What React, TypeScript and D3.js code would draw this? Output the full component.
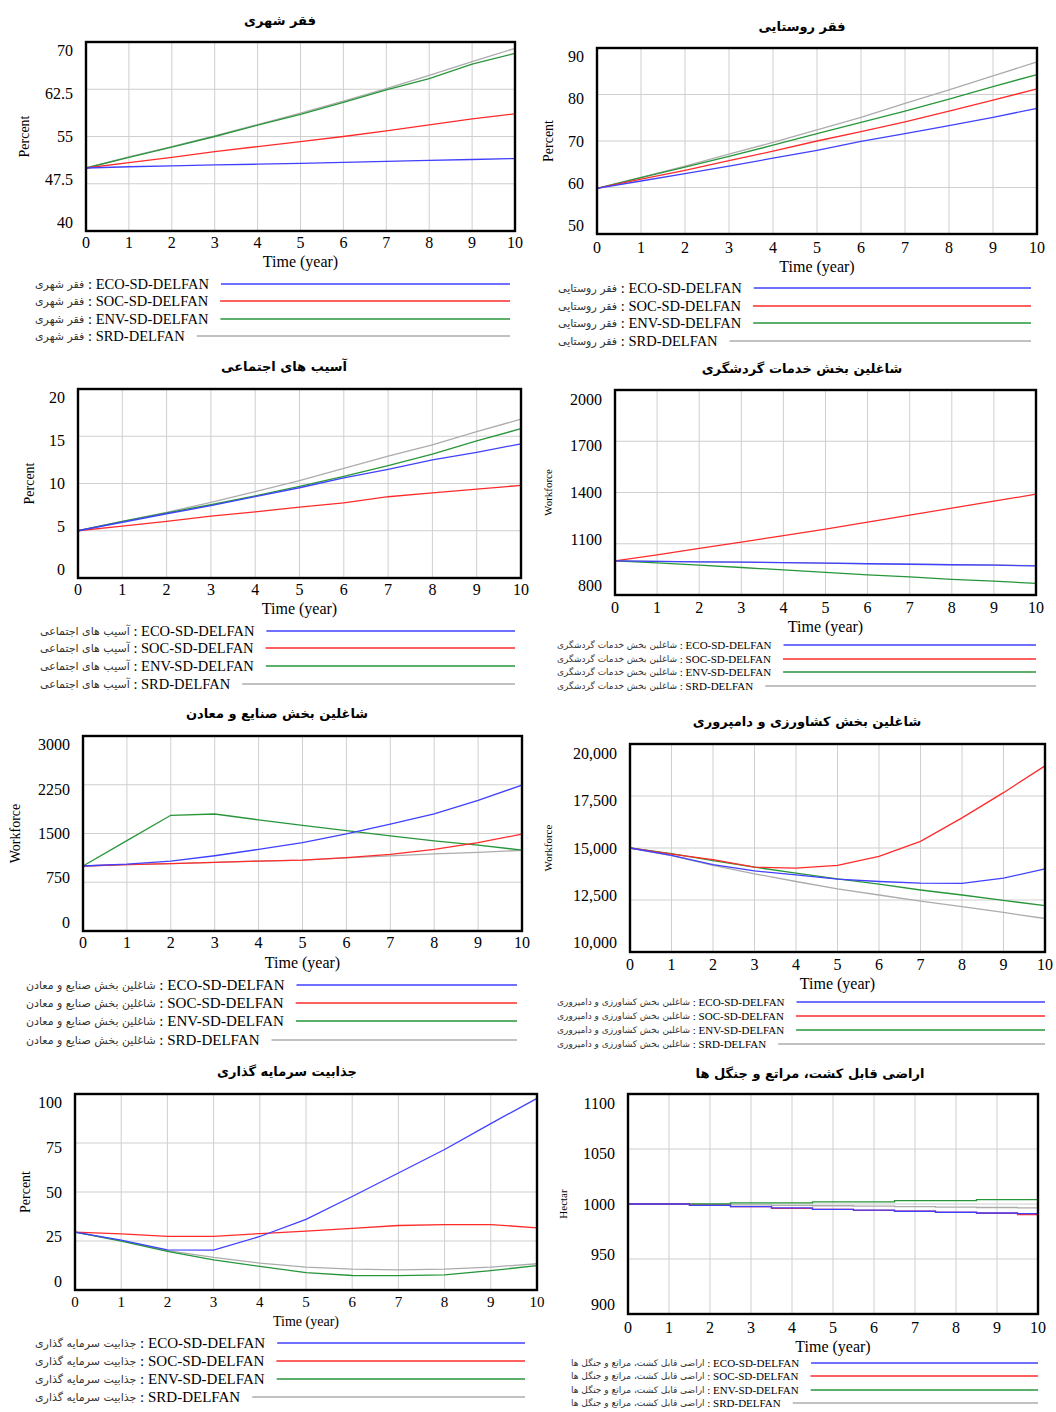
import * as d3 from 'd3';
import { useEffect, useRef } from 'react';

const years = [0, 1, 2, 3, 4, 5, 6, 7, 8, 9, 10];
const runNames = ['ECO-SD-DELFAN', 'SOC-SD-DELFAN', 'ENV-SD-DELFAN', 'SRD-DELFAN'];
const runColors = ['#4040ff', '#ff2b2b', '#27963a', '#acacac'];

// فقر شهری
const urbanTicks = [40, 47.5, 55, 62.5, 70];
const urbanEco = [50, 50.2, 50.35, 50.5, 50.6, 50.75, 50.9, 51.05, 51.2, 51.35, 51.5];
const urbanSoc = [50, 50.85, 51.7, 52.6, 53.4, 54.2, 55.0, 55.9, 56.85, 57.8, 58.6];
const urbanEnv = [50, 51.7, 53.3, 55.0, 56.8, 58.5, 60.4, 62.4, 64.2, 66.5, 68.2];
const urbanSrd = [50, 51.75, 53.4, 55.1, 56.9, 58.7, 60.6, 62.6, 64.7, 66.9, 69.0];

// فقر روستایی
const ruralTicks = [50, 60, 70, 80, 90];
const ruralEco = [59.8, 61.4, 63.0, 64.6, 66.3, 68.0, 69.9, 71.6, 73.3, 75.1, 77.0];
const ruralSoc = [59.8, 61.8, 63.7, 65.8, 67.8, 70.0, 72.0, 74.1, 76.4, 78.8, 81.2];
const ruralEnv = [59.8, 62.1, 64.4, 66.7, 69.1, 71.6, 74.0, 76.4, 79.0, 81.7, 84.3];
const ruralSrd = [59.8, 62.2, 64.6, 67.2, 69.7, 72.4, 75.1, 78.1, 81.0, 84.0, 87.0];

// آسیب های اجتماعی
const socialTicks = [0, 5, 10, 15, 20];
const socialEco = [5.0, 5.9, 6.8, 7.65, 8.6, 9.55, 10.6, 11.5, 12.5, 13.3, 14.2];
const socialSoc = [5.0, 5.5, 6.0, 6.55, 7.0, 7.5, 7.95, 8.6, 9.0, 9.4, 9.8];
const socialEnv = [5.0, 6.0, 6.9, 7.75, 8.7, 9.7, 10.75, 11.9, 13.1, 14.5, 15.8];
const socialSrd = [5.0, 6.0, 6.95, 8.0, 9.15, 10.3, 11.6, 12.9, 14.1, 15.5, 16.8];

// شاغلین بخش خدمات گردشگری
const tourismTicks = [800, 1100, 1400, 1700, 2000];
const tourismEco = [1000, 997, 994, 992, 990, 987, 983, 980, 977, 975, 970];
const tourismSoc = [1000, 1035, 1073, 1110, 1147, 1186, 1227, 1268, 1308, 1349, 1390];
const tourismEnv = [1000, 988, 975, 961, 947, 933, 918, 906, 892, 881, 868];
const tourismSrd = [1000, 997, 994, 992, 990, 987, 984, 981, 978, 976, 972];

// شاغلین بخش صنایع و معادن
const industryTicks = [0, 750, 1500, 2250, 3000];
const industryEco = [1000, 1030, 1075, 1158, 1256, 1360, 1493, 1643, 1803, 2010, 2245];
const industrySoc = [1000, 1020, 1035, 1055, 1075, 1090, 1130, 1178, 1255, 1360, 1490];
const industryEnv = [1000, 1390, 1780, 1800, 1710, 1625, 1545, 1465, 1385, 1320, 1245];
const industrySrd = [1000, 1020, 1035, 1055, 1075, 1090, 1125, 1155, 1185, 1210, 1240];

// شاغلین بخش کشاورزی و دامپروری
const farmTicks = [10000, 12500, 15000, 17500, 20000];
const farmEco = [15000, 14650, 14200, 13900, 13710, 13500, 13390, 13310, 13300, 13550, 14000];
const farmSoc = [15000, 14710, 14440, 14080, 14030, 14160, 14600, 15320, 16450, 17660, 18950];
const farmEnv = [15000, 14730, 14390, 14080, 13790, 13520, 13260, 12980, 12740, 12480, 12230];
const farmSrd = [15000, 14630, 14160, 13760, 13390, 13030, 12740, 12450, 12180, 11900, 11610];

// جذابیت سرمایه گذاری
const investTicks = [0, 25, 50, 75, 100];
const investEco = [29.5, 25.5, 20.5, 20.3, 27.3, 36, 47.7, 59.7, 71.7, 84.9, 97.8];
const investSoc = [29.5, 28.6, 27.4, 27.4, 28.8, 30.0, 31.4, 32.9, 33.4, 33.4, 31.7];
const investEnv = [29.5, 24.9, 19.7, 15.4, 12.0, 8.9, 7.4, 7.3, 7.7, 9.9, 12.4];
const investSrd = [29.5, 25.2, 20.1, 16.6, 13.7, 11.7, 10.6, 10.3, 10.6, 11.7, 13.4];

// اراضی قابل کشت، مراتع و جنگل ها (yearly steps)
const landTicks = [900, 950, 1000, 1050, 1100];
const landEco = [1000, 1000, 998.8, 997.6, 996.4, 995.2, 994.5, 993.4, 992.5, 991.8, 991.2];
const landSoc = [1000, 1000, 998.8, 997.6, 996.0, 995.2, 994.2, 993.4, 992.4, 991.6, 990.4];
const landEnv = [1000, 1000, 1000, 1001, 1001, 1002, 1002, 1003, 1003, 1004, 1004];
const landSrd = [1000, 1000, 999.6, 999.2, 998.8, 998.4, 998.0, 997.6, 997.2, 996.8, 996.4];

const panels = [
  { title: 'فقر شهری', unit: 'Percent', ticks: urbanTicks, series: [urbanEco, urbanSoc, urbanEnv, urbanSrd],
    box: [86, 515, 42, 231], titleX: 280, titleY: 20, unitX: 24, unitSize: 14, tickY: 242, timeY: 261,
    legendX: 35, legendY: [284, 301, 319, 336], legendSize: 14.5, faSize: 11, legendEnd: 510 },
  { title: 'فقر روستایی', unit: 'Percent', ticks: ruralTicks, series: [ruralEco, ruralSoc, ruralEnv, ruralSrd],
    box: [597, 1037, 48, 234], titleX: 802, titleY: 26, unitX: 548, unitSize: 14, tickY: 247, timeY: 266,
    legendX: 558, legendY: [288, 306, 323, 341], legendSize: 14.5, faSize: 11, legendEnd: 1031 },
  { title: 'آسیب های اجتماعی', unit: 'Percent', ticks: socialTicks, series: [socialEco, socialSoc, socialEnv, socialSrd],
    box: [78, 521, 389, 578], titleX: 284, titleY: 366, unitX: 29, unitSize: 14, tickY: 589, timeY: 608,
    legendX: 40, legendY: [631, 648, 666, 684], legendSize: 14.5, faSize: 11, legendEnd: 515 },
  { title: 'شاغلین بخش خدمات گردشگری', unit: 'Workforce', ticks: tourismTicks, series: [tourismEco, tourismSoc, tourismEnv, tourismSrd],
    box: [615, 1036, 390, 595], titleX: 802, titleY: 368, unitX: 548, unitSize: 11, tickY: 607, timeY: 626,
    legendX: 557, legendY: [645, 659, 672, 686], legendSize: 11, faSize: 9, legendEnd: 1036 },
  { title: 'شاغلین بخش صنایع و معادن', unit: 'Workforce', ticks: industryTicks, series: [industryEco, industrySoc, industryEnv, industrySrd],
    box: [83, 522, 736, 931], titleX: 277, titleY: 713, unitX: 15, unitSize: 14, tickY: 942, timeY: 962,
    legendX: 26, legendY: [985, 1003, 1021, 1040], legendSize: 15, faSize: 11, legendEnd: 517 },
  { title: 'شاغلین بخش کشاورزی و دامپروری', unit: 'Workforce', ticks: farmTicks, series: [farmEco, farmSoc, farmEnv, farmSrd],
    box: [630, 1045, 744, 952], titleX: 807, titleY: 721, unitX: 548, unitSize: 11, tickY: 964, timeY: 983,
    legendX: 557, legendY: [1002, 1016, 1030, 1044], legendSize: 11, faSize: 9, legendEnd: 1045, comma: true },
  { title: 'جذابیت سرمایه گذاری', unit: 'Percent', ticks: investTicks, series: [investEco, investSoc, investEnv, investSrd],
    box: [75, 537, 1094, 1290], titleX: 287, titleY: 1071, unitX: 25, unitSize: 14, tickY: 1302, timeY: 1321, tickSize: 15, timeSize: 14,
    legendX: 35, legendY: [1343, 1361, 1379, 1397], legendSize: 15, faSize: 11, legendEnd: 525 },
  { title: 'اراضی قابل کشت، مراتع و جنگل ها', unit: 'Hectar', ticks: landTicks, series: [landEco, landSoc, landEnv, landSrd],
    box: [628, 1038, 1094, 1314], titleX: 810, titleY: 1073, unitX: 563, unitSize: 11, tickY: 1327, timeY: 1346,
    legendX: 571, legendY: [1363, 1376, 1390, 1403], legendSize: 11, faSize: 9, legendEnd: 1038, stepped: true },
];

const serif = '"Liberation Serif", "Times New Roman", serif';
const arabic = '"DejaVu Sans", sans-serif';

const App = () => {
  const svgRef = useRef(null);

  useEffect(() => {
    const svg = d3.select(svgRef.current);
    svg.selectAll('*').remove();
    svg.append('rect').attr('width', 1056).attr('height', 1412).attr('fill', '#fff');

    panels.forEach(p => {
      const [x0, x1, y0, y1] = p.box;
      const g = svg.append('g');
      const x = d3.scaleLinear().domain([0, 10]).range([x0, x1]);
      const y = d3.scaleLinear()
        .domain([p.ticks[0], p.ticks[p.ticks.length - 1]])
        .range([y1, y0]);
      const cy = (y0 + y1) / 2;
      const fmt = p.comma ? d3.format(',') : d3.format('');

      // grid
      g.selectAll('.vgrid')
        .data(years.slice(1, -1))
        .enter()
        .append('line')
        .attr('x1', d => x(d)).attr('x2', d => x(d))
        .attr('y1', y0).attr('y2', y1)
        .style('stroke', '#cfcfcf').style('stroke-width', 1);
      g.selectAll('.hgrid')
        .data(p.ticks.slice(1, -1))
        .enter()
        .append('line')
        .attr('x1', x0).attr('x2', x1)
        .attr('y1', d => y(d)).attr('y2', d => y(d))
        .style('stroke', '#cfcfcf').style('stroke-width', 1);

      // series, SRD drawn first so ECO ends on top
      const line = d3.line<number>()
        .x((d, i) => x(years[i]))
        .y(d => y(d))
        .curve(p.stepped ? d3.curveStep : d3.curveLinear);
      [3, 2, 1, 0].forEach(k => {
        g.append('path')
          .attr('d', line(p.series[k]))
          .attr('fill', 'none')
          .style('stroke', runColors[k])
          .style('stroke-width', 1.3);
      });

      // frame
      g.append('rect')
        .attr('x', x0).attr('y', y0)
        .attr('width', x1 - x0).attr('height', y1 - y0)
        .attr('fill', 'none')
        .style('stroke', '#000').style('stroke-width', 2.4);

      // y tick labels, pulled slightly inward like the original
      g.selectAll('.ytick')
        .data(p.ticks)
        .enter()
        .append('text')
        .attr('x', x0 - 13)
        .attr('y', d => y(d) + (cy - y(d)) * 0.09)
        .attr('text-anchor', 'end')
        .attr('dominant-baseline', 'central')
        .style('font-family', serif)
        .style('font-size', '16px')
        .text(d => fmt(d));

      // x tick labels
      g.selectAll('.xtick')
        .data(years)
        .enter()
        .append('text')
        .attr('x', d => x(d))
        .attr('y', p.tickY)
        .attr('text-anchor', 'middle')
        .attr('dominant-baseline', 'central')
        .style('font-family', serif)
        .style('font-size', `${p.tickSize || 16}px`)
        .text(d => d);

      g.append('text')
        .attr('x', (x0 + x1) / 2)
        .attr('y', p.timeY)
        .attr('text-anchor', 'middle')
        .attr('dominant-baseline', 'central')
        .style('font-family', serif)
        .style('font-size', `${p.timeSize || 16}px`)
        .text('Time (year)');

      g.append('text')
        .attr('transform', `translate(${p.unitX},${cy}) rotate(-90)`)
        .attr('text-anchor', 'middle')
        .attr('dominant-baseline', 'central')
        .style('font-family', serif)
        .style('font-size', `${p.unitSize}px`)
        .text(p.unit);

      g.append('text')
        .attr('x', p.titleX)
        .attr('y', p.titleY)
        .attr('text-anchor', 'middle')
        .attr('dominant-baseline', 'central')
        .style('font-family', arabic)
        .style('font-weight', 'bold')
        .style('font-size', '13px')
        .text(p.title);

      // legend
      runNames.forEach((run, i) => {
        const t = g.append('text')
          .attr('x', p.legendX)
          .attr('y', p.legendY[i])
          .attr('dominant-baseline', 'central');
        t.append('tspan')
          .style('font-family', arabic)
          .style('font-size', `${p.faSize}px`)
          .style('fill', '#333')
          .text(p.title);
        t.append('tspan')
          .style('font-family', serif)
          .style('font-size', `${p.legendSize}px`)
          .text(` : ${run}`);
        const w = t.node().getComputedTextLength();
        g.append('line')
          .attr('x1', p.legendX + w + 12)
          .attr('x2', p.legendEnd)
          .attr('y1', p.legendY[i]).attr('y2', p.legendY[i])
          .style('stroke', runColors[i])
          .style('stroke-width', 1.3);
      });
    });
  }, []);

  return (
    <svg
      ref={svgRef}
      width={1056}
      height={1412}
      style={{ position: 'absolute', left: 0, top: 0 }}
    ></svg>
  );
};

export default App;
